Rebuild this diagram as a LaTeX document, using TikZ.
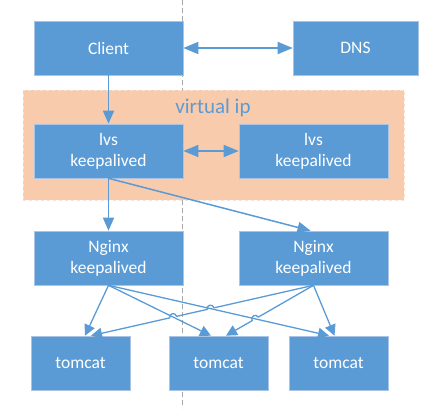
\documentclass[tikz,border=0pt]{standalone}
\usepackage{fontspec}
\setmainfont{Carlito}
\usetikzlibrary{arrows.meta,calc,intersections}
\definecolor{boxblue}{HTML}{5B9BD5}
\definecolor{boxedge}{HTML}{A9C4E4}
\definecolor{regfill}{HTML}{F8CBAD}
\definecolor{regedge}{HTML}{FBE2D2}
\definecolor{guide}{HTML}{A6A6A6}
\begin{document}
\begin{tikzpicture}[x=1pt,y=-1pt,
  box/.style={rectangle, fill=boxblue, draw=boxedge, line width=0.6pt, text=white,
    align=center, inner sep=0pt, font=\fontsize{17.5}{21}\selectfont},
  wide/.style={box, minimum width=149pt, minimum height=54pt},
  narrow/.style={box, minimum width=99pt, minimum height=54pt},
  dnsbox/.style={box, minimum width=125pt, minimum height=54pt},
  link/.style={draw=boxblue, line width=1.5pt, -{Triangle[length=13pt,width=11pt]}},
  duo/.style={draw=boxblue, line width=1.5pt, {Triangle[length=15pt,width=12pt]}-{Triangle[length=15pt,width=12pt]}},
  fan/.style={draw=boxblue, line width=1.3pt, line join=round, -{Triangle[length=11pt,width=11pt]}},
  hop/.style={bend right=90, looseness=1.7}
]
\useasboundingbox (0,0) rectangle (446,408);
% guide line
\coordinate (gtop) at (182,0);
\coordinate (gbot) at (182,408);
\draw[guide, line width=0.8pt, dash pattern=on 5pt off 3pt] (gtop) -- (gbot);
% virtual ip region
\node[fill=regfill, draw=regedge, dashed, line width=0.8pt, minimum width=381pt, minimum height=110pt, inner sep=0pt] (region) at (213.5,145) {};
\node[text=boxblue, font=\fontsize{21}{24}\selectfont] (vip) at (213,108) {virtual ip};
% boxes
\node[wide] (client) at (108.5,48) {Client};
\node[dnsbox] (dns) at (355.5,48) {DNS};
\node[wide] (lvs1) at (108.5,151) {lvs\\keepalived};
\node[wide] (lvs2) at (313.5,151) {lvs\\keepalived};
\node[wide] (ng1) at (108.5,258) {Nginx\\keepalived};
\node[wide] (ng2) at (313.5,258) {Nginx\\keepalived};
\node[narrow] (t1) at (80.5,363) {tomcat};
\node[narrow] (t2) at (218.5,363) {tomcat};
\node[narrow] (t3) at (338.5,363) {tomcat};
% top connectors
\draw[duo] (client.east) -- (dns.west);
\draw[link] (client.south) -- (lvs1.north);
\draw[duo] (lvs1.east) -- (lvs2.west);
\draw[link] (lvs1.south) -- (ng1.north);
\coordinate (ng2in) at ($(ng2.north)+(-3,0)$);
\draw[link] (lvs1.south) -- (ng2in);
% fan targets
\coordinate (tA) at ($(t1.north)+(4.5,0)$);
\coordinate (tD) at ($(t1.north)+(10.5,0)$);
\coordinate (tB) at ($(t2.north)+(-7.5,0)$);
\coordinate (tE) at ($(t2.north)+(7.5,0)$);
\coordinate (tC) at ($(t3.north)+(-9.5,0)$);
\coordinate (tF) at ($(t3.north)+(-4,0)$);
\path[name path=pB] (ng1.south) -- (tB);
\path[name path=pC] (ng1.south) -- (tC);
\path[name path=pD] (ng2.south) -- (tD);
\path[name path=pE] (ng2.south) -- (tE);
\path[name intersections={of=pD and pC, by=xDC}];
\path[name intersections={of=pD and pB, by=xDB}];
\path[name intersections={of=pE and pC, by=xEC}];
% fan from Nginx 1
\draw[fan] (ng1.south) -- (tA);
\draw[fan] (ng1.south) -- (tB);
\draw[fan] (ng1.south) -- (tC);
% fan from Nginx 2 with hops
\draw[fan] (ng2.south) -- ($(xDC)!3.5pt!(ng2.south)$) to[hop] ($(xDC)!3.5pt!(tD)$)
  -- ($(xDB)!3.5pt!(ng2.south)$) to[hop] ($(xDB)!3.5pt!(tD)$) -- (tD);
\draw[fan] (ng2.south) -- ($(xEC)!3.5pt!(ng2.south)$) to[hop] ($(xEC)!3.5pt!(tE)$) -- (tE);
\draw[fan] (ng2.south) -- (tF);
\end{tikzpicture}
\end{document}
